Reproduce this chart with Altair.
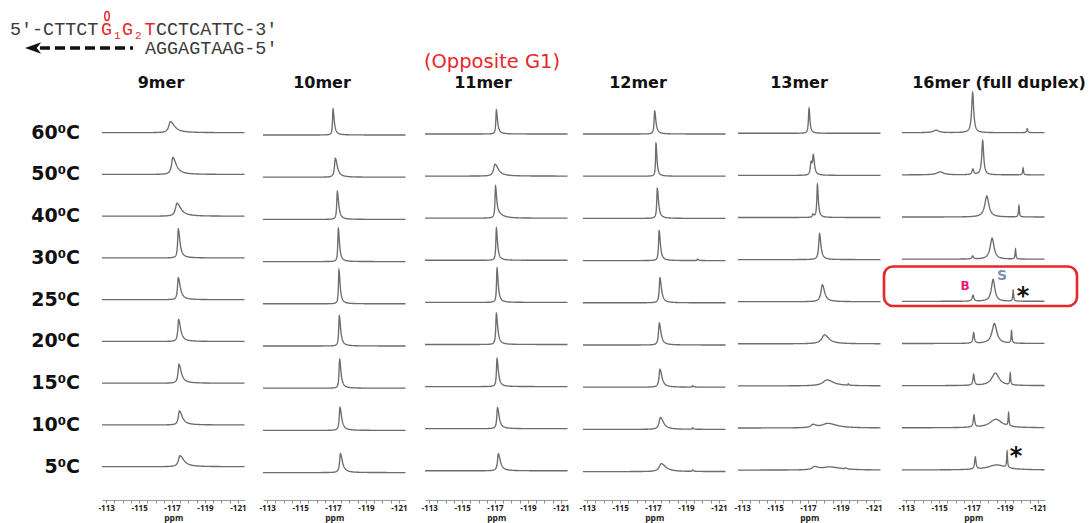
import altair as alt
import numpy as np
import pandas as pd

# ---------------------------------------------------------------------------
# 19F NMR spectra, stacked by temperature, one panel per complement length
# ---------------------------------------------------------------------------
PANELS = ["9mer", "10mer", "11mer", "12mer", "13mer", "16mer (full duplex)"]
TEMPS = ["60⁰C", "50⁰C", "40⁰C", "30⁰C", "25⁰C", "20⁰C", "15⁰C", "10⁰C", "5⁰C"]

# peaks per trace, 60 -> 5 degC: (shift / ppm, intensity, line width / ppm)
PEAKS_9MER = [
    [(-116.90, 11, 0.24)],
    [(-117.05, 17, 0.19)],
    [(-117.30, 13, 0.22)],
    [(-117.38, 29, 0.09)],
    [(-117.38, 22, 0.11)],
    [(-117.40, 22, 0.11)],
    [(-117.42, 19, 0.13)],
    [(-117.45, 14, 0.16)],
    [(-117.48, 11, 0.22)],
]
PEAKS_10MER = [
    [(-117.00, 26, 0.07)],
    [(-117.14, 19, 0.12)],
    [(-117.26, 28, 0.08)],
    [(-117.32, 33, 0.07)],
    [(-117.36, 34, 0.07)],
    [(-117.38, 30, 0.08)],
    [(-117.40, 29, 0.08)],
    [(-117.42, 23, 0.10)],
    [(-117.45, 19, 0.12)],
]
PEAKS_11MER = [
    [(-117.08, 24, 0.07)],
    [(-117.00, 12, 0.20)],
    [(-117.03, 31, 0.07), (-117.22, 3, 0.30)],
    [(-117.08, 32, 0.07)],
    [(-117.12, 34, 0.07)],
    [(-117.08, 31, 0.08)],
    [(-117.12, 28, 0.08)],
    [(-117.15, 21, 0.10)],
    [(-117.20, 17, 0.12)],
]
PEAKS_12MER = [
    [(-117.10, 23, 0.08)],
    [(-117.18, 33, 0.06)],
    [(-117.26, 30, 0.08)],
    [(-117.37, 30, 0.08), (-119.70, 1.5, 0.05)],
    [(-117.42, 25, 0.10)],
    [(-117.38, 22, 0.11)],
    [(-117.42, 18, 0.13), (-119.40, 1.5, 0.05)],
    [(-117.45, 12, 0.20), (-119.40, 1.5, 0.05)],
    [(-117.50, 8, 0.30), (-119.40, 1.5, 0.05)],
]
PEAKS_13MER = [
    [(-117.06, 25, 0.08)],
    [(-117.18, 12, 0.10), (-117.32, 18, 0.10)],
    [(-117.30, 3, 0.08), (-117.57, 33, 0.08)],
    [(-117.70, 26, 0.12)],
    [(-117.87, 17, 0.20)],
    [(-118.00, 9, 0.40)],
    [(-118.15, 6, 0.60), (-119.44, 1.5, 0.05)],
    [(-117.30, 3, 0.30), (-118.20, 4.5, 0.80)],
    [(-117.40, 3, 0.35), (-118.30, 3, 1.00), (-119.30, 1, 0.10)],
]
PEAKS_16MER = [
    [(-114.82, 2.5, 0.40), (-117.04, 40, 0.15), (-120.35, 4, 0.08)],
    [(-115.07, 3, 0.50), (-117.05, 5.5, 0.12), (-117.65, 34, 0.14), (-120.10, 7, 0.06)],
    [(-117.90, 21, 0.30), (-119.85, 11.5, 0.06)],
    [(-117.04, 3, 0.12), (-118.22, 21, 0.28), (-119.64, 10, 0.06)],
    [(-117.06, 6, 0.12), (-118.28, 22, 0.25), (-119.50, 11, 0.06)],
    [(-117.10, 10.5, 0.10), (-118.36, 20, 0.35), (-119.40, 12.5, 0.06)],
    [(-117.10, 11, 0.10), (-118.42, 12.5, 0.55), (-119.32, 11.5, 0.06)],
    [(-117.12, 12, 0.10), (-118.45, 8.5, 0.90), (-119.22, 13, 0.06)],
    [(-117.20, 12, 0.10), (-118.50, 5, 1.30), (-119.13, 16, 0.06)],
]
SPECTRA = [PEAKS_9MER, PEAKS_10MER, PEAKS_11MER, PEAKS_12MER, PEAKS_13MER, PEAKS_16MER]
# upfield broadening of each line (ratio of right / left half width)
TAILING = [2.6, 2.4, 2.4, 2.2, 1.6, 1.0]

TICK_LABELS = [-113, -115, -117, -119, -121]
PPM_DOMAIN = [-112.75, -121.4]

# ---------------------------------------------------------------------------
# layout (pixels)
# ---------------------------------------------------------------------------
W, H, PAD_BOTTOM = 1092, 500, 23
PANEL_LEFT = [102, 263, 425, 583, 738, 902]
PANEL_WIDTH = 142.5
ROW_TOP = [132.7, 135.0, 134.0, 134.0, 133.3, 132.7]
ROW_PITCH = [41.75, 42.2, 42.1, 42.2, 42.1, 42.16]
TITLE_X = [161, 322, 483, 638, 799, 999]
LINE_GREY = "#6c6c6c"
RED = "#e8262b"
INK = "#3a3a3a"


def baseline(panel, row):
    return H - (ROW_TOP[panel] + row * ROW_PITCH[panel])


def lorentz(x, center, height, fwhm, tail):
    hw = np.where(x < center, fwhm / 2 * tail, fwhm / 2)
    return height / (1 + ((x - center) / hw) ** 2)


rows = []
for p, (name, traces) in enumerate(zip(PANELS, SPECTRA)):
    for r, (temp, peaks) in enumerate(zip(TEMPS, traces)):
        grid = [np.linspace(PPM_DOMAIN[1], PPM_DOMAIN[0], 200)]
        for c, h, w in peaks:
            grid.append(np.linspace(c - 5 * w * TAILING[p], c + 5 * w, 90))
            grid.append([c])
        x = np.unique(np.concatenate(grid))
        x = x[(x <= PPM_DOMAIN[0]) & (x >= PPM_DOMAIN[1])]
        y = np.zeros_like(x)
        for c, h, w in peaks:
            y += lorentz(x, c, h, w, TAILING[p])
        for xi, yi in zip(x, y):
            rows.append({"panel": name, "temp": temp, "ppm": float(xi),
                         "y": baseline(p, r) + float(yi)})
spectra = pd.DataFrame(rows)

tick_values = [float(v) for v in np.arange(-113, -121.01, -0.5)]
label_list = "[" + ",".join(str(v) for v in TICK_LABELS) + "]"
label_expr = f"indexof({label_list}, datum.value) >= 0 ? '' + datum.value : ''"

y_scale = alt.Scale(domain=[0, H], nice=False, zero=False)

layers = []
for p, name in enumerate(PANELS):
    axis = alt.Axis(
        orient="bottom", values=tick_values, labelExpr=label_expr, title="ppm",
        grid=False, labelFlush=False, labelOverlap=False,
        domainColor="#9a9a9a", tickColor="#8a8a8a", tickSize=3,
        labelFont="Open Sans", labelFontWeight="bold", labelFontSize=8,
        labelColor="#222222", labelPadding=1,
        titleFont="Open Sans", titleFontWeight="bold", titleFontSize=8.5,
        titleColor="#222222", titleBaseline="alphabetic", titleY=20.5,
    )
    layers.append(
        alt.Chart(spectra)
        .transform_filter(alt.datum.panel == name)
        .mark_line(color=LINE_GREY, strokeWidth=1.35)
        .encode(
            x=alt.X("ppm:Q", axis=axis,
                    scale=alt.Scale(domain=PPM_DOMAIN, nice=False, zero=False,
                                    range=[PANEL_LEFT[p], PANEL_LEFT[p] + PANEL_WIDTH])),
            y=alt.Y("y:Q", axis=None, scale=y_scale),
            detail="temp:N",
        )
    )

one = pd.DataFrame({"k": [0]})


def label(text, x, y, size, color="#111111", weight="normal", font="DejaVu Sans",
          align="center", baseline="middle"):
    return alt.Chart(one).mark_text(
        text=text, fontSize=size, color=color, fontWeight=weight, font=font,
        align=align, baseline=baseline,
    ).encode(x=alt.value(x), y=alt.value(y))


# temperature labels sit on the 9mer baselines
temps = pd.DataFrame({"temp": TEMPS, "y": [baseline(0, r) for r in range(len(TEMPS))]})
layers.append(
    alt.Chart(temps).mark_text(font="DejaVu Sans", fontWeight="bold", fontSize=19,
                               align="right", baseline="middle", color="#111111")
    .encode(x=alt.value(80), y=alt.Y("y:Q", scale=y_scale, axis=None), text="temp:N")
)

# column headings
for name, tx in zip(PANELS, TITLE_X):
    layers.append(label(name, tx, 82.5, 16, weight="bold"))
layers.append(label("(Opposite G1)", 492, 62, 19.5, color=RED))

# oligonucleotide sequences (monospaced, 11 px per character)
SEQ_FONT = "Liberation Mono"
SEQ_SIZE = 18.4
SUB_SIZE = 11
seq_parts = [
    ("5′-CTTCT", 10, 35, SEQ_SIZE, INK),
    ("G", 101, 35, SEQ_SIZE, RED),
    ("1", 114, 38.5, SUB_SIZE, RED),
    ("G", 122, 35, SEQ_SIZE, RED),
    ("2", 135, 38.5, SUB_SIZE, RED),
    ("T", 144.5, 35, SEQ_SIZE, RED),
    ("CCTCATTC-3′", 156, 35, SEQ_SIZE, INK),
    ("AGGAGTAAG-5′", 145, 53.5, SEQ_SIZE, INK),
]
for text, sx, sy, size, col in seq_parts:
    layers.append(label(text, sx, sy, size, color=col, font=SEQ_FONT,
                        align="left", baseline="alphabetic"))
layers.append(
    alt.Chart(one).mark_point(
        shape="M0,-1 A0.5,1 0 1,1 0,1 A0.5,1 0 1,1 0,-1 Z",
        size=81, filled=False, stroke=RED, strokeWidth=1.5, opacity=1,
    ).encode(x=alt.value(107), y=alt.value(16))
)
# dashed arrow running 3' -> 5' along the complement
layers.append(
    alt.Chart(one).mark_rule(color="#111111", strokeWidth=3.5, strokeDash=[10, 5])
    .encode(x=alt.value(40), x2=alt.value(133), y=alt.value(48))
)
layers.append(
    alt.Chart(one).mark_point(
        shape="M-1,0 L0.8,-0.65 L0.3,0 L0.8,0.65 Z",
        size=324, filled=True, color="#111111", opacity=1,
    ).encode(x=alt.value(34), y=alt.value(48))
)

# 25 degC full-duplex annotation
layers.append(
    alt.Chart(one).mark_rect(fillOpacity=0, stroke=RED, strokeWidth=2.6, cornerRadius=9)
    .encode(x=alt.value(884), x2=alt.value(1077), y=alt.value(266.5), y2=alt.value(306))
)
layers.append(label("B", 965, 286, 12, color="#e8177d", weight="bold"))
layers.append(label("S", 1002, 276, 14, color="#8090b0", weight="bold"))
layers.append(label("*", 1023, 304, 24, weight="bold", baseline="alphabetic"))
layers.append(label("*", 1016, 464, 24, weight="bold", baseline="alphabetic"))

chart = (
    alt.layer(*layers)
    .resolve_scale(x="independent")
    .properties(width=W, height=H, autosize=alt.AutoSizeParams(type="none"),
                padding={"left": 0, "top": 0, "right": 0, "bottom": PAD_BOTTOM},
                background="white")
    .configure_view(stroke="transparent")
)

chart.save("out.html", embed_options={"renderer": "svg", "actions": False})
